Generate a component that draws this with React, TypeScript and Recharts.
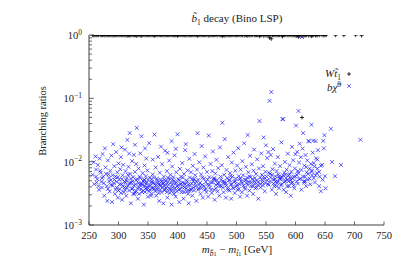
import React from "react";
import { ScatterChart, Scatter, XAxis, YAxis } from "recharts";

// x-axis ticks (GeV)
const xTicks = [250, 300, 350, 400, 450, 500, 550, 600, 650, 700, 750];
// y-axis ticks (log, with minors)
const yTicks = [
  0.001, 0.002, 0.003, 0.004, 0.005, 0.006, 0.007, 0.008, 0.009,
  0.01, 0.02, 0.03, 0.04, 0.05, 0.06, 0.07, 0.08, 0.09,
  0.1, 0.2, 0.3, 0.4, 0.5, 0.6, 0.7, 0.8, 0.9, 1,
];
const yDecadeLabels: Record<string, string> = { "0.001": "−3", "0.01": "−2", "0.1": "−1", "1": "0" };

// W t1 branching ratio
const wtPoints: [number, number][] = [
  [256, 0.994], [258, 0.99], [260, 0.992], [262, 0.988], [264, 0.995], [266, 0.991], [269, 0.993], [271, 0.989],
  [273, 0.996], [275, 0.992], [277, 0.985], [279, 0.994], [281, 0.99], [283, 0.993], [285, 0.996], [287, 0.991],
  [289, 0.988], [291, 0.981], [293, 0.992], [295, 0.995], [297, 0.99], [299, 0.993], [301, 0.989], [303, 0.994],
  [305, 0.992], [307, 0.996], [309, 0.99], [311, 0.985], [313, 0.993], [315, 0.978], [317, 0.991], [319, 0.972],
  [321, 0.995], [323, 0.99], [325, 0.994], [327, 0.988], [329, 0.992], [331, 0.966], [333, 0.996], [335, 0.991],
  [337, 0.987], [339, 0.975], [341, 0.993], [343, 0.995], [345, 0.99], [347, 0.989], [349, 0.994], [351, 0.992],
  [353, 0.995], [355, 0.991], [357, 0.993], [359, 0.99], [361, 0.973], [363, 0.992], [365, 0.995], [367, 0.988],
  [369, 0.996], [371, 0.991], [373, 0.994], [375, 0.99], [377, 0.993], [379, 0.985], [381, 0.992], [383, 0.995],
  [385, 0.99], [387, 0.994], [389, 0.991], [391, 0.988], [393, 0.993], [395, 0.987], [397, 0.992], [399, 0.995],
  [400, 0.973], [402, 0.991], [404, 0.994], [406, 0.99], [408, 0.99], [410, 0.996], [412, 0.992], [414, 0.981],
  [416, 0.994], [418, 0.99], [420, 0.989], [422, 0.993], [424, 0.991], [426, 0.99], [428, 0.995], [430, 0.992],
  [432, 0.996], [434, 0.972], [436, 0.992], [438, 0.994], [440, 0.99], [442, 0.993], [444, 0.991], [446, 0.995],
  [448, 0.99], [450, 0.992], [453, 0.974], [455, 0.994], [457, 0.991], [459, 0.993], [461, 0.99], [463, 0.996],
  [465, 0.992], [467, 0.989], [469, 0.994], [472, 0.983], [474, 0.992], [476, 0.959], [478, 0.995], [480, 0.977],
  [482, 0.993], [484, 0.99], [486, 0.988], [488, 0.994], [490, 0.992], [492, 0.99], [494, 0.995], [496, 0.991],
  [498, 0.993], [500, 0.99], [502, 0.994], [504, 0.992], [506, 0.995], [508, 0.99], [510, 0.989], [513, 0.98],
  [515, 0.993], [517, 0.991], [519, 0.974], [521, 0.994], [523, 0.988], [525, 0.992], [527, 0.995], [530, 0.984],
  [532, 0.993], [534, 0.99], [536, 0.994], [539, 0.956], [541, 0.992], [543, 0.99], [546, 0.976], [548, 0.994],
  [550, 0.982], [552, 0.988], [554, 0.986], [556, 0.904], [558, 0.987], [559, 0.871], [561, 0.992], [563, 0.994],
  [565, 0.99], [567, 0.996], [569, 0.993], [571, 0.991], [573, 0.994], [576, 0.98], [578, 0.953], [580, 0.994],
  [582, 0.99], [584, 0.996], [587, 0.987], [589, 0.993], [591, 0.994], [594, 0.983], [596, 0.989], [598, 0.995],
  [601, 0.962], [603, 0.986], [605, 0.937], [607, 0.981], [609, 0.988], [611, 0.0498], [613, 0.972], [615, 0.991],
  [617, 0.987], [619, 0.993], [622, 0.979], [625, 0.995], [627, 0.962], [629, 0.986], [631, 0.994], [634, 0.979],
  [636, 0.993], [638, 0.985], [641, 0.994], [645, 0.991], [648, 0.984], [650, 0.994], [652, 0.996], [668, 0.99],
  [682, 0.991], [702, 0.995], [712, 0.978],
];

// b chi0 branching ratio, by mass range
const bChiA: [number, number][] = [
  [256, 0.0062], [258, 0.0098], [259, 0.0044], [261, 0.0121], [262, 0.0075], [264, 0.0053], [265, 0.0089], [267, 0.0036],
  [268, 0.0112], [270, 0.0067], [271, 0.0048], [273, 0.0132], [274, 0.0058], [276, 0.0029], [277, 0.0162], [278, 0.0081],
  [280, 0.0041], [281, 0.0024], [282, 0.0105], [283, 0.0063], [285, 0.0034], [286, 0.0072], [287, 0.0051], [288, 0.0125],
  [289, 0.0023], [291, 0.0189], [292, 0.0046], [293, 0.0085], [294, 0.0031], [295, 0.0058], [296, 0.0142], [297, 0.0039],
  [298, 0.0068], [299, 0.0027], [300, 0.0094], [301, 0.0052], [302, 0.0037], [303, 0.0076], [304, 0.0118], [305, 0.0044],
  [306, 0.0025], [307, 0.0061], [308, 0.0089], [309, 0.0033], [310, 0.0048], [311, 0.0155], [312, 0.0071], [313, 0.0029],
  [314, 0.0055], [315, 0.0221], [316, 0.0041], [317, 0.0083], [318, 0.0035], [319, 0.0283], [320, 0.0064], [321, 0.0022],
  [322, 0.0047], [323, 0.0102], [324, 0.0038], [325, 0.0057], [326, 0.0128], [327, 0.0031], [328, 0.0069], [329, 0.0044],
  [330, 0.0092], [331, 0.0342], [332, 0.0053], [333, 0.0026], [334, 0.0078], [335, 0.0039], [336, 0.0058], [337, 0.0135],
  [338, 0.0045], [339, 0.0252], [340, 0.0033], [341, 0.0066], [342, 0.0049], [343, 0.0021], [344, 0.0087], [345, 0.0041],
  [346, 0.0059], [347, 0.0112], [348, 0.0036], [349, 0.0073], [350, 0.0028], [305, 0.0168], [318, 0.0134], [328, 0.0185],
  [345, 0.0162], [341, 0.0043], [344, 0.0052], [346, 0.0038], [348, 0.0047], [263, 0.0047], [272, 0.0039], [284, 0.0056],
  [290, 0.0042], [300, 0.0035], [310, 0.0039], [320, 0.0046], [330, 0.0034], [336, 0.0043], [313, 0.0051], [325, 0.0031],
];
const bChiB: [number, number][] = [
  [352, 0.0034], [353, 0.0056], [354, 0.0042], [356, 0.0031], [357, 0.0048], [358, 0.0063], [359, 0.0039], [361, 0.0268],
  [362, 0.0045], [363, 0.0081], [364, 0.0029], [365, 0.0054], [366, 0.0036], [367, 0.0119], [368, 0.0044], [369, 0.0024],
  [370, 0.0067], [371, 0.0041], [372, 0.0052], [373, 0.0033], [374, 0.0091], [375, 0.0046], [376, 0.0022], [377, 0.0058],
  [378, 0.0035], [379, 0.0149], [380, 0.0049], [381, 0.0038], [382, 0.0071], [383, 0.0027], [384, 0.0055], [385, 0.0043],
  [386, 0.0104], [387, 0.0032], [388, 0.0062], [389, 0.0047], [390, 0.0021], [391, 0.0084], [392, 0.0039], [393, 0.0057],
  [394, 0.0034], [395, 0.0126], [396, 0.0045], [397, 0.0028], [398, 0.0068], [399, 0.0041], [400, 0.0271], [401, 0.0053],
  [402, 0.0036], [403, 0.0023], [404, 0.0077], [405, 0.0044], [352, 0.0196], [358, 0.0108], [372, 0.0173], [383, 0.0138],
  [390, 0.0211], [397, 0.0159], [406, 0.0058], [407, 0.0033], [408, 0.0095], [409, 0.0047], [410, 0.0026], [411, 0.0064],
  [412, 0.0039], [413, 0.0152], [414, 0.0189], [415, 0.0051], [416, 0.0034], [417, 0.0073], [418, 0.0043], [419, 0.0022],
  [420, 0.0111], [421, 0.0056], [422, 0.0037], [423, 0.0068], [424, 0.0045], [425, 0.0029], [426, 0.0086], [427, 0.0049],
  [428, 0.0035], [429, 0.0132], [430, 0.0061], [431, 0.0041], [432, 0.0024], [433, 0.0075], [434, 0.0282], [435, 0.0052],
  [436, 0.0038], [437, 0.0098], [438, 0.0046], [439, 0.0031], [440, 0.0063], [441, 0.0176], [442, 0.0043], [443, 0.0027],
  [444, 0.0081], [445, 0.0054], [446, 0.0036], [447, 0.0121], [448, 0.0048], [449, 0.0033], [450, 0.0069], [355, 0.0047],
  [360, 0.0037], [366, 0.0051], [377, 0.0042], [388, 0.0037], [394, 0.0049], [411, 0.0045], [420, 0.0035], [428, 0.0053],
];
const bChiC: [number, number][] = [
  [451, 0.0044], [452, 0.0028], [453, 0.0258], [454, 0.0057], [455, 0.0039], [456, 0.0092], [457, 0.0047], [458, 0.0032],
  [459, 0.0071], [460, 0.0145], [461, 0.0053], [462, 0.0036], [463, 0.0025], [464, 0.0065], [465, 0.0043], [466, 0.0107],
  [467, 0.0051], [468, 0.0034], [469, 0.0079], [470, 0.0046], [471, 0.0029], [472, 0.0168], [473, 0.0058], [474, 0.0041],
  [475, 0.0088], [476, 0.0412], [477, 0.0049], [478, 0.0033], [479, 0.0062], [480, 0.0227], [481, 0.0045], [482, 0.0027],
  [483, 0.0074], [484, 0.0055], [485, 0.0038], [486, 0.0118], [487, 0.0051], [488, 0.0035], [489, 0.0066], [490, 0.0044],
  [491, 0.0026], [492, 0.0097], [493, 0.0058], [494, 0.0039], [495, 0.0139], [496, 0.0048], [497, 0.0032], [498, 0.0072],
  [499, 0.0054], [500, 0.0041], [501, 0.0087], [502, 0.0036], [503, 0.0163], [504, 0.0059], [505, 0.0044], [506, 0.0028],
  [507, 0.0075], [508, 0.0049], [509, 0.0033], [510, 0.0102], [511, 0.0061], [512, 0.0042], [513, 0.0195], [514, 0.0052],
  [515, 0.0037], [516, 0.0083], [517, 0.0046], [518, 0.0029], [519, 0.0264], [520, 0.0068], [521, 0.0048], [522, 0.0035],
  [523, 0.0124], [524, 0.0057], [525, 0.0041], [526, 0.0091], [527, 0.0053], [528, 0.0031], [529, 0.0072], [530, 0.0155],
  [531, 0.0045], [532, 0.0038], [533, 0.0064], [534, 0.0051], [535, 0.0109], [536, 0.0043], [537, 0.0026], [538, 0.0078],
  [539, 0.0438], [540, 0.0056], [541, 0.0039], [542, 0.0135], [543, 0.0062], [544, 0.0047], [545, 0.0085], [546, 0.0241],
  [547, 0.0053], [548, 0.0034], [549, 0.0069], [550, 0.0181], [463, 0.0052], [478, 0.0046], [490, 0.0059], [505, 0.0053],
  [518, 0.0056], [530, 0.0049], [545, 0.0042],
];
const bChiD: [number, number][] = [
  [551, 0.0058], [552, 0.0114], [553, 0.0044], [554, 0.0142], [555, 0.0067], [556, 0.0912], [557, 0.0049], [558, 0.0127],
  [559, 0.1262], [560, 0.0036], [561, 0.0076], [562, 0.0158], [563, 0.0052], [564, 0.0041], [565, 0.0093], [566, 0.0059],
  [567, 0.0031], [568, 0.0071], [569, 0.0046], [570, 0.0118], [571, 0.0063], [572, 0.0038], [573, 0.0054], [574, 0.0085],
  [575, 0.0043], [576, 0.0202], [577, 0.0057], [578, 0.0472], [579, 0.0468], [580, 0.0036], [581, 0.0067], [582, 0.0099],
  [583, 0.0049], [584, 0.0033], [585, 0.0075], [586, 0.0052], [587, 0.0134], [588, 0.0061], [589, 0.0041], [590, 0.0088],
  [591, 0.0055], [592, 0.0029], [593, 0.0069], [594, 0.0171], [595, 0.0047], [596, 0.0105], [597, 0.0058], [598, 0.0038],
  [599, 0.0078], [600, 0.0131], [601, 0.0372], [602, 0.0062], [603, 0.0143], [604, 0.0045], [605, 0.0631], [606, 0.0097],
  [607, 0.0192], [608, 0.0054], [609, 0.0118], [610, 0.0036], [611, 0.93], [612, 0.0161], [613, 0.0283], [614, 0.0049],
  [615, 0.0087], [616, 0.0058], [617, 0.0127], [618, 0.0041], [619, 0.0068], [620, 0.0105], [621, 0.0052], [622, 0.0213],
  [623, 0.0208], [624, 0.0078], [625, 0.0044], [626, 0.0092], [627, 0.0382], [628, 0.0061], [629, 0.0139], [630, 0.0215],
  [631, 0.0055], [632, 0.0084], [633, 0.0047], [634, 0.0211], [635, 0.0113], [636, 0.0066], [637, 0.0078], [638, 0.0152],
  [640, 0.0041], [641, 0.0058], [643, 0.0034], [645, 0.0089], [647, 0.0213], [648, 0.0162], [649, 0.0262], [650, 0.0059],
  [651, 0.0038], [660, 0.0331], [662, 0.0099], [667, 0.0059], [677, 0.0089], [710, 0.0222], [557, 0.0064], [566, 0.0048],
  [574, 0.0056], [583, 0.0062], [592, 0.0051], [604, 0.0071], [616, 0.0049], [627, 0.0069],
];
// dense core of the b chi0 band
const bChiCore: [number, number][] = [
  [262, 0.0058], [266, 0.0041], [269, 0.0072], [272, 0.0055], [275, 0.0046], [279, 0.0064], [282, 0.0037], [284, 0.0049],
  [287, 0.0043], [290, 0.0061], [293, 0.0052], [295, 0.0036], [297, 0.0048], [299, 0.0057], [302, 0.0044], [304, 0.0032],
  [306, 0.0053], [308, 0.0041], [311, 0.0036], [312, 0.0047], [314, 0.0039], [316, 0.0062], [318, 0.0045], [321, 0.0054],
  [323, 0.0037], [324, 0.0049], [326, 0.0042], [328, 0.0033], [330, 0.0051], [332, 0.0038], [334, 0.0046], [335, 0.0031],
  [337, 0.0055], [338, 0.0037], [340, 0.0044], [342, 0.0035], [343, 0.0051], [345, 0.0033], [347, 0.0045], [349, 0.0039],
  [350, 0.0052], [351, 0.0041], [353, 0.0036], [355, 0.0029], [356, 0.0053], [357, 0.0038], [359, 0.0046], [360, 0.0056],
  [362, 0.0034], [363, 0.0042], [365, 0.0038], [367, 0.0047], [368, 0.0032], [370, 0.0043], [371, 0.0036], [373, 0.0049],
  [374, 0.0039], [376, 0.0045], [378, 0.0052], [379, 0.0037], [381, 0.0043], [382, 0.0033], [384, 0.0048], [386, 0.0038],
  [387, 0.0054], [389, 0.0035], [391, 0.0043], [392, 0.0052], [394, 0.0031], [396, 0.0038], [398, 0.0047], [399, 0.0034],
  [401, 0.0042], [403, 0.0051], [404, 0.0037], [406, 0.0045], [408, 0.0039], [409, 0.0056], [411, 0.0033], [413, 0.0044],
  [415, 0.0038], [417, 0.0048], [418, 0.0031], [421, 0.0042], [423, 0.0036], [425, 0.0053], [427, 0.0039], [430, 0.0045],
  [432, 0.0049], [435, 0.0036], [437, 0.0043], [440, 0.0038], [442, 0.0056], [445, 0.0041], [448, 0.0037], [451, 0.0052],
  [454, 0.0043], [457, 0.0036], [460, 0.0047], [462, 0.0055], [465, 0.0038], [468, 0.0045], [471, 0.0041], [474, 0.0052],
  [477, 0.0039], [480, 0.0048], [483, 0.0042], [486, 0.0036], [489, 0.0051], [492, 0.0044], [495, 0.0038], [498, 0.0049],
  [501, 0.0043], [504, 0.0037], [507, 0.0054], [510, 0.0046], [513, 0.0039], [516, 0.0051], [519, 0.0043], [522, 0.0058],
  [525, 0.0047], [528, 0.0041], [531, 0.0055], [534, 0.0039], [537, 0.0048], [540, 0.0044], [543, 0.0052], [546, 0.0058],
  [549, 0.0046], [552, 0.0051], [555, 0.0043], [558, 0.0056], [560, 0.0062], [563, 0.0045], [565, 0.0053], [568, 0.0041],
  [570, 0.0049], [572, 0.0058], [575, 0.0052], [577, 0.0044], [579, 0.0061], [581, 0.0048], [584, 0.0055], [586, 0.0041],
  [588, 0.0049], [590, 0.0063], [593, 0.0046], [595, 0.0054], [597, 0.0042], [600, 0.0058], [602, 0.0049], [605, 0.0066],
  [607, 0.0053], [610, 0.0074], [613, 0.0058], [615, 0.0047], [618, 0.0082], [621, 0.0064], [624, 0.0054], [628, 0.0072],
  [631, 0.0095], [634, 0.0061], [637, 0.0108], [640, 0.0069], [643, 0.0086], [646, 0.0052],
];

const toRows = (arr: [number, number][]) => arr.map(([m, br]) => ({ m, br }));
const wtRows = toRows(wtPoints);
const bRows = toRows([...bChiA, ...bChiB, ...bChiC, ...bChiD, ...bChiCore]);

const SERIF = "'Liberation Serif', 'DejaVu Serif', serif";
const AXIS = "#404040";
const BLUE = "#1a1aff";

const XMark = (p: any) => {
  const { cx, cy } = p;
  if (cx == null || cy == null) return null;
  const r = 1.9;
  return (
    <path
      d={`M${cx - r},${cy - r}L${cx + r},${cy + r}M${cx - r},${cy + r}L${cx + r},${cy - r}`}
      stroke={BLUE}
      strokeOpacity={0.7}
      strokeWidth={1}
      fill="none"
    />
  );
};
const PlusMark = (p: any) => {
  const { cx, cy } = p;
  if (cx == null || cy == null) return null;
  const r = 2;
  return (
    <path
      d={`M${cx - r},${cy}L${cx + r},${cy}M${cx},${cy - r}L${cx},${cy + r}`}
      stroke="#000"
      strokeWidth={0.8}
      fill="none"
    />
  );
};

const isDecade = (v: number) => Math.abs(Math.log10(v) - Math.round(Math.log10(v))) < 1e-6;

const LeftYTick = (p: any) => {
  const { x, y, payload } = p;
  const v = payload.value;
  const dec = isDecade(v);
  const key = String(v);
  return (
    <g>
      <line x1={x} x2={x + (dec ? 5 : 3)} y1={y} y2={y} stroke={AXIS} strokeWidth={0.8} />
      {dec && (
        <text x={x - 7} y={y + 4} textAnchor="end" fontFamily={SERIF} fontSize={10.5} fill="#222">
          10
          <tspan dy={-4.5} fontSize={7.5}>{yDecadeLabels[key]}</tspan>
        </text>
      )}
    </g>
  );
};
const RightYTick = (p: any) => {
  const { x, y, payload } = p;
  const dec = isDecade(payload.value);
  return <line x1={x} x2={x - (dec ? 5 : 3)} y1={y} y2={y} stroke={AXIS} strokeWidth={0.8} />;
};
const BottomXTick = (p: any) => {
  const { x, y, payload } = p;
  return (
    <g>
      <line x1={x} x2={x} y1={y} y2={y - 3.5} stroke={AXIS} strokeWidth={0.8} />
      <text x={x} y={y + 14} textAnchor="middle" fontFamily={SERIF} fontSize={10.5} fill="#222">
        {payload.value}
      </text>
    </g>
  );
};
const TopXTick = (p: any) => {
  const { x, y } = p;
  return <line x1={x} x2={x} y1={y} y2={y + 3.5} stroke={AXIS} strokeWidth={0.8} />;
};

export default function App() {
  return (
    <div style={{ position: "absolute", left: 0, top: 0, width: 407, height: 263, background: "#fff" }}>
      <ScatterChart width={407} height={263} margin={{ top: 35, right: 23, bottom: 0, left: 0 }}>
        <XAxis
          xAxisId="b"
          dataKey="m"
          type="number"
          domain={[250, 750]}
          ticks={xTicks}
          interval={0}
          orientation="bottom"
          height={38}
          tickSize={0}
          tickMargin={0}
          tickLine={false}
          axisLine={{ stroke: AXIS, strokeWidth: 1 }}
          tick={<BottomXTick />}
          allowDataOverflow
        />
        <XAxis
          xAxisId="t"
          dataKey="m"
          type="number"
          domain={[250, 750]}
          ticks={xTicks}
          interval={0}
          orientation="top"
          height={0}
          tickSize={0}
          tickMargin={0}
          tickLine={false}
          axisLine={{ stroke: AXIS, strokeWidth: 1 }}
          tick={<TopXTick />}
          allowDataOverflow
        />
        <YAxis
          yAxisId="l"
          dataKey="br"
          type="number"
          scale="log"
          domain={[0.001, 1]}
          ticks={yTicks}
          interval={0}
          width={89}
          tickSize={0}
          tickMargin={0}
          tickLine={false}
          axisLine={{ stroke: AXIS, strokeWidth: 1 }}
          tick={<LeftYTick />}
          allowDataOverflow
        />
        <YAxis
          yAxisId="r"
          dataKey="br"
          type="number"
          scale="log"
          domain={[0.001, 1]}
          ticks={yTicks}
          interval={0}
          orientation="right"
          width={0}
          tickSize={0}
          tickMargin={0}
          tickLine={false}
          axisLine={{ stroke: AXIS, strokeWidth: 1 }}
          tick={<RightYTick />}
          allowDataOverflow
        />
        <Scatter xAxisId="b" yAxisId="l" data={bRows} shape={<XMark />} isAnimationActive={false} />
        <Scatter xAxisId="b" yAxisId="l" data={wtRows} shape={<PlusMark />} isAnimationActive={false} />
        <Scatter xAxisId="t" yAxisId="r" data={[]} isAnimationActive={false} />
      </ScatterChart>
      <svg
        width={407}
        height={263}
        style={{ position: "absolute", left: 0, top: 0, pointerEvents: "none" }}
        fontFamily={SERIF}
      >
        <text x={237} y={22} textAnchor="middle" fontSize={11} fill="#222">
          <tspan fontStyle="italic">b̃</tspan>
          <tspan dy={2.5} fontSize={7.5}>1</tspan>
          <tspan dy={-2.5}> decay (Bino LSP)</tspan>
        </text>
        <text x={341} y={77} textAnchor="end" fontSize={11} fill="#222" fontStyle="italic">
          Wt̃<tspan dy={2.5} fontSize={7.5} fontStyle="normal">1</tspan>
        </text>
        <text x={341} y={91} textAnchor="end" fontSize={11} fill="#222" fontStyle="italic">
          bχ̃<tspan dy={-4} fontSize={7.5} fontStyle="normal">0</tspan>
        </text>
        <path d="M347,74L351,74M349,72L349,76" stroke="#000" strokeWidth={0.8} fill="none" />
        <path d="M347.2,84.2L350.8,87.8M347.2,87.8L350.8,84.2" stroke={BLUE} strokeOpacity={0.7} strokeWidth={1} fill="none" />
        <text transform="translate(46,121) rotate(-90)" textAnchor="middle" fontSize={10.5} fill="#222">
          Branching ratios
        </text>
        <text x={237} y={253} textAnchor="middle" fontSize={11} fill="#222">
          <tspan fontStyle="italic">m</tspan>
          <tspan dy={3} fontSize={7.5} fontStyle="italic">b̃</tspan>
          <tspan fontSize={6}>1</tspan>
          <tspan dy={-3}> − </tspan>
          <tspan fontStyle="italic">m</tspan>
          <tspan dy={3} fontSize={7.5} fontStyle="italic">t̃</tspan>
          <tspan fontSize={6}>1</tspan>
          <tspan dy={-3}> [GeV]</tspan>
        </text>
      </svg>
    </div>
  );
}
